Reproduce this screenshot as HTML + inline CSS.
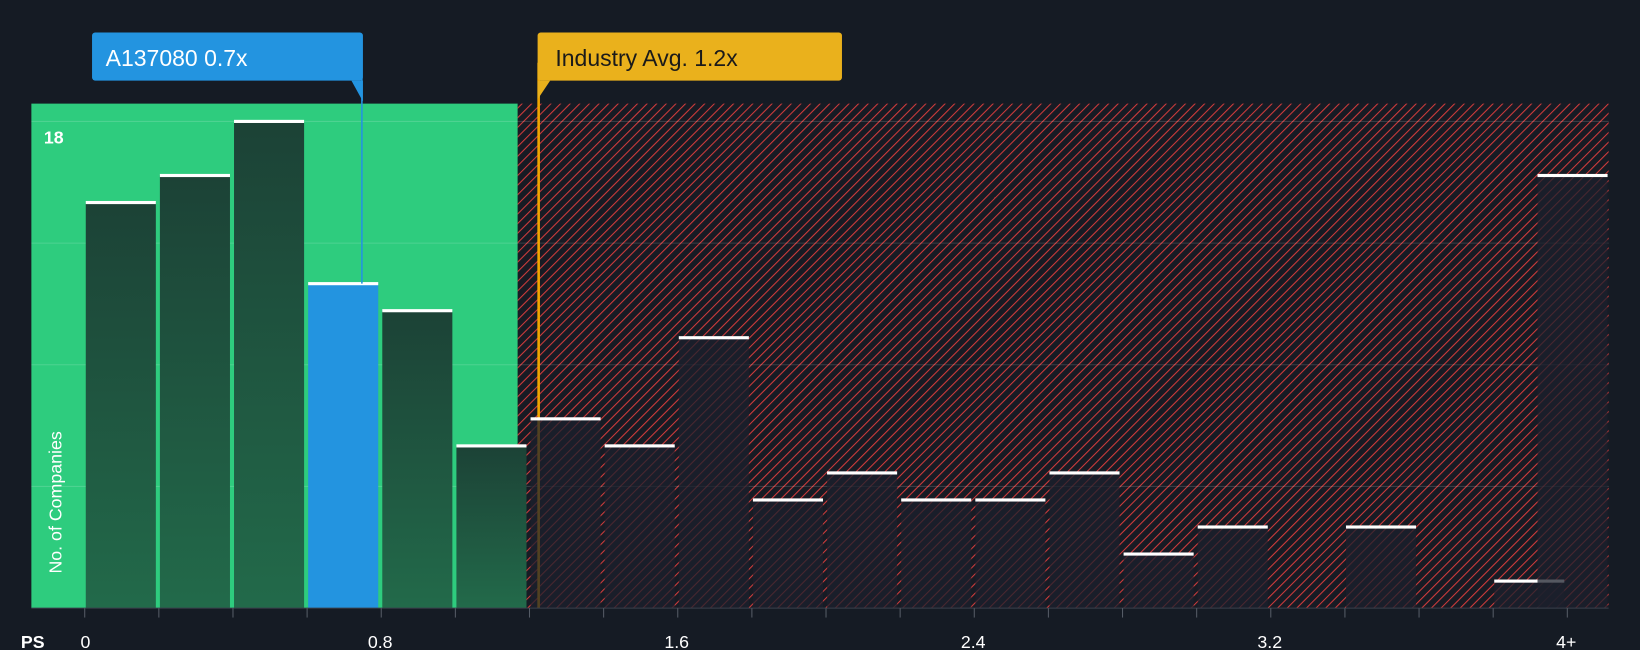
<!DOCTYPE html>
<html><head><meta charset="utf-8"><style>
html,body{margin:0;padding:0;background:#151b24;}
svg{display:block;font-family:"Liberation Sans",sans-serif;}
</style></head><body>
<svg id="chart" width="1640" height="650" viewBox="0 0 1568 621" preserveAspectRatio="none">
<defs>
<pattern id="hatch" patternUnits="userSpaceOnUse" width="6.5" height="6.5" patternTransform="rotate(45)">
<rect width="6.5" height="6.5" fill="#171b24"/>
<line x1="0" y1="0" x2="0" y2="6.5" stroke="#d23c3c" stroke-width="2"/>
</pattern>
<linearGradient id="gbar" x1="0" y1="0" x2="0" y2="1">
<stop offset="0" stop-color="#1c4236"/><stop offset="1" stop-color="#226a4a"/>
</linearGradient>
</defs>
<rect width="1568" height="621" fill="#151b24"/>
<rect x="30" y="99" width="465" height="482" fill="#2ecc7e"/>
<rect x="495" y="99" width="1043" height="482" fill="url(#hatch)"/>
<g id="grid"></g>
<line x1="515" y1="60" x2="515" y2="581" stroke="#f0a500" stroke-width="2.5"/>
<g id="bars"></g>
<line x1="30" y1="581" x2="1538" y2="581" stroke="#3a414c" stroke-width="1"/>
<g id="ticks"></g>
<text x="42" y="137" fill="#fff" font-size="17" font-weight="bold">18</text>
<text transform="translate(59,480) rotate(-90)" text-anchor="middle" fill="#fff" font-size="17">No. of Companies</text>
<text x="20" y="619" fill="#fff" font-size="17" font-weight="bold">PS</text>
<line x1="346" y1="75" x2="346" y2="271" stroke="#2394e0" stroke-width="1.5"/>
<g>
<rect x="88" y="31" width="259" height="46" rx="3" fill="#2394e0"/>
<path d="M336 77 L347 77 L347 97 Z" fill="#2394e0"/>
<text x="101" y="63" fill="#fff" font-size="22">A137080 0.7x</text>
</g>
<g>
<rect x="514" y="31" width="291" height="46" rx="3" fill="#eab11c"/>
<path d="M514 77 L526 77 L514 95 Z" fill="#eab11c"/>
<text x="531" y="63" fill="#1a1a1a" font-size="22">Industry Avg. 1.2x</text>
</g>
</svg>
<script>
const counts=[15,16,18,12,11,6,7,6,10,4,5,4,4,5,2,3,0,3,0,1,16];
const tickLabels=["0","0.8","1.6","2.4","3.2","4+"];
const tickValues=[0,0.8,1.6,2.4,3.2,4.0];
const highlightIndex=3;
const splitValue=1.2;
const NS="http://www.w3.org/2000/svg";
const y0=581,yPerUnit=465/18;
function yScale(v){return y0-v*yPerUnit;}
function xScale(ps){return 82+ps/0.8*283.5;}
const bw=67;
const grid=document.getElementById('grid');
for(let k=1;k<=4;k++){
 const l=document.createElementNS(NS,'line');
 const y=yScale(4.5*k);
 l.setAttribute('x1',30);l.setAttribute('x2',1538);l.setAttribute('y1',y);l.setAttribute('y2',y);
 l.setAttribute('stroke','rgba(255,255,255,0.15)');l.setAttribute('stroke-width','1');
 
 
 grid.appendChild(l);
}
const bars=document.getElementById('bars');
counts.forEach((c,i)=>{
 let x=i<20?xScale(i*0.2):1470;
 if(c<=0)return;
 const y=yScale(c);
 const inGreen=(i*0.2)<splitValue-0.1;
 const r=document.createElementNS(NS,'rect');
 r.setAttribute('x',x);r.setAttribute('y',y);r.setAttribute('width',bw);r.setAttribute('height',y0-y);
 r.setAttribute('fill',i===highlightIndex?'#2394e0':(inGreen?'url(#gbar)':'rgba(28,32,44,0.75)'));
 
 
 bars.appendChild(r);
 const t=document.createElementNS(NS,'rect');
 t.setAttribute('x',x);t.setAttribute('y',y-1.5);t.setAttribute('width',bw);t.setAttribute('height',3);t.setAttribute('fill','#fff');
 
 
 bars.appendChild(t);
});
const ticks=document.getElementById('ticks');
for(let i=0;i<=20;i++){
 const x=xScale(i*0.2)-1;
 const l=document.createElementNS(NS,'line');
 l.setAttribute('x1',x);l.setAttribute('x2',x);l.setAttribute('y1',581);l.setAttribute('y2',590);
 l.setAttribute('stroke','#555c66');
 
 
 ticks.appendChild(l);
}
tickValues.forEach((v,i)=>{
 const t=document.createElementNS(NS,'text');
 t.setAttribute('x',xScale(v)+(i===0?-5:-2));t.setAttribute('y',619);
 t.setAttribute('text-anchor',i===0?'start':'middle');
 t.setAttribute('fill','#fff');t.setAttribute('font-size','17');
 t.textContent=tickLabels[i];
 
 
 ticks.appendChild(t);
});
</script>
</body></html>
